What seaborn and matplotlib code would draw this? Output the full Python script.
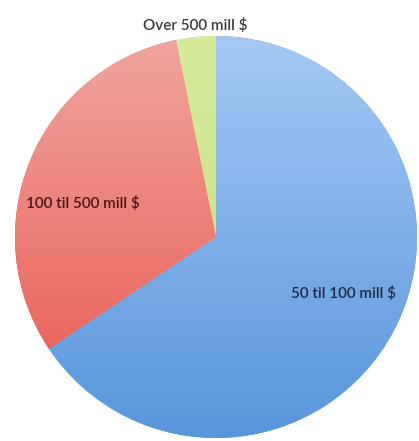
import numpy as np
import matplotlib
matplotlib.use("Agg")
import matplotlib.pyplot as plt
import seaborn as sns
from matplotlib.colors import LinearSegmentedColormap

sns.set_theme(style="white")
plt.rcParams['font.family'] = ['Lato', 'DejaVu Sans']

# Data
categories = ["Over 500 mill $", "100 til 500 mill $", "50 til 100 mill $"]
shares = [3.2, 31.2, 65.6]
top_colors = ["#d6eb9c", "#f0a5a0", "#a5c9f5"]
bottom_colors = ["#c4e07e", "#e8564c", "#5896da"]
label_colors = ["#3a3a3a", "#4a1515", "#1c2a48"]

W, H = 419, 441
fig = plt.figure(figsize=(W / 100, H / 100), dpi=100)
ax = fig.add_axes([0, 0, 1, 1])

cx, cy, r = 216, H - 237, 201
wedges, _ = ax.pie(shares, startangle=90, counterclock=True,
                   colors=bottom_colors, center=(cx, cy), radius=r,
                   frame=True, wedgeprops=dict(linewidth=0))
ax.set_xlim(0, W)
ax.set_ylim(0, H)
ax.set_aspect("equal")
ax.axis("off")

grad = np.linspace(0, 1, 256).reshape(-1, 1)
for w, tc, bc in zip(wedges, top_colors, bottom_colors):
    cmap = LinearSegmentedColormap.from_list("g", [bc, tc])
    im = ax.imshow(grad, cmap=cmap, origin="lower", aspect="auto",
                   extent=(cx - r, cx + r, cy - r, cy + r), zorder=2)
    im.set_clip_path(w)

label_pos = [(195, 25), (83, 203), (343, 293)]
for lab, (x, y), c in zip(categories, label_pos, label_colors):
    ax.text(x, H - y, lab, ha="center", va="center", fontsize=11,
            fontweight="semibold", color=c, zorder=5)

fig.savefig("out.png", dpi=100)
